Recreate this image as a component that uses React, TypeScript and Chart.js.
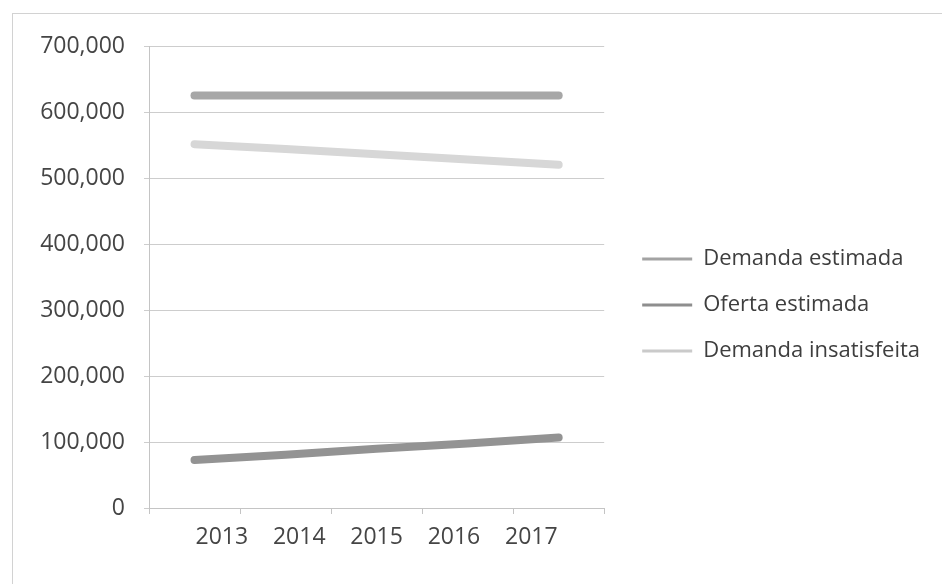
import React, { useEffect, useRef } from 'react';
import { Chart, registerables } from 'chart.js';

Chart.register(...registerables);

const categories = ['2013', '2014', '2015', '2016', '2017'];
const yearValues = [2013, 2014, 2015, 2016, 2017];
const demandaEstimada = [626000, 626000, 626000, 626000, 626000];
const ofertaEstimada = [73000, 81000, 90000, 98000, 107000];
const demandaInsatisfeita = [552000, 545000, 537000, 529000, 521000];
const seriesNames = ['Demanda estimada', 'Oferta estimada', 'Demanda insatisfeita'];
const lineColors = ['#a7a7a7', '#939393', '#d7d7d7'];
const legendColors = ['#a3a3a3', '#8e8e8e', '#cacaca'];
const yMin = 0;
const yMax = 700000;
const yStep = 100000;

const FONT = "'Open Sans', 'Noto Sans', sans-serif";

export default function App() {
  const canvasRef = useRef<HTMLCanvasElement | null>(null);

  useEffect(() => {
    if (!canvasRef.current) return;
    const seriesValues = [demandaEstimada, ofertaEstimada, demandaInsatisfeita];
    const chart = new Chart(canvasRef.current, {
      type: 'line',
      data: {
        labels: categories,
        datasets: seriesNames.map((name, i) => ({
          label: name,
          data: seriesValues[i],
          borderColor: lineColors[i],
          backgroundColor: lineColors[i],
          borderWidth: 8,
          borderCapStyle: 'round' as const,
          borderJoinStyle: 'round' as const,
          pointRadius: 0,
          pointHoverRadius: 0,
          tension: 0,
          fill: false,
          xAxisID: 'x',
          yAxisID: 'y',
        })),
      },
      options: {
        animation: false,
        responsive: true,
        maintainAspectRatio: false,
        layout: { padding: { top: 29, left: 0, right: 12, bottom: 17 } },
        plugins: {
          tooltip: { enabled: false },
          legend: {
            position: 'right',
            align: 'center',
            maxWidth: 400,
            labels: {
              boxWidth: 50,
              boxHeight: 3,
              padding: 24,
              color: '#3e3e3e',
              font: { family: FONT, size: 22 },
              generateLabels: (c: any) =>
                c.data.datasets.map((ds: any, i: number) => ({
                  text: ds.label,
                  fillStyle: legendColors[i],
                  strokeStyle: legendColors[i],
                  lineWidth: 0,
                  hidden: false,
                  datasetIndex: i,
                  fontColor: '#3e3e3e',
                })),
            },
          },
        },
        scales: {
          x: {
            type: 'category',
            position: 'bottom',
            weight: 0,
            offset: true,
            grid: {
              offset: true,
              drawOnChartArea: false,
              drawTicks: true,
              tickLength: 6,
              color: '#c4c4c4',
            },
            border: { display: true, color: '#c4c4c4' },
            ticks: { display: false },
            afterFit: (s: any) => {
              s.height = 6;
            },
          },
          x2: {
            type: 'linear',
            position: 'bottom',
            weight: 1,
            min: 2012.058,
            max: 2017.942,
            grid: { display: false, drawTicks: false },
            border: { display: false },
            afterBuildTicks: (s: any) => {
              s.ticks = yearValues.map((v) => ({ value: v }));
            },
            ticks: {
              padding: 10,
              color: '#454545',
              font: { family: FONT, size: 23 },
              maxRotation: 0,
              autoSkip: false,
              callback: (_v: any, i: number) => categories[i],
            },
            afterFit: (s: any) => {
              s.height = 53;
            },
          },
          y: {
            type: 'linear',
            position: 'left',
            min: yMin,
            max: yMax,
            grid: {
              color: '#cdcdcd',
              lineWidth: 1,
              drawTicks: true,
              tickLength: 5,
            },
            border: { display: true, color: '#c4c4c4' },
            ticks: {
              stepSize: yStep,
              padding: 19,
              color: '#454545',
              font: { family: FONT, size: 23 },
              callback: (v: any) => Number(v).toLocaleString('en-US'),
            },
            afterFit: (s: any) => {
              s.width = 136;
            },
          },
          yr: {
            type: 'linear',
            position: 'right',
            display: true,
            grid: { display: false, drawTicks: false },
            border: { display: false },
            ticks: { display: false },
            afterFit: (s: any) => {
              s.width = 14;
            },
          },
        },
      } as any,
    });
    return () => chart.destroy();
  }, []);

  return (
    <div
      style={{
        position: 'fixed',
        left: 12,
        top: 13,
        width: 930,
        height: 571,
        boxSizing: 'border-box',
        borderTop: '1px solid #d2d2d2',
        borderLeft: '1px solid #d2d2d2',
        overflow: 'hidden',
        background: '#ffffff',
      }}
    >
      <div style={{ position: 'relative', width: 929, height: 570 }}>
        <canvas ref={canvasRef} />
      </div>
    </div>
  );
}
